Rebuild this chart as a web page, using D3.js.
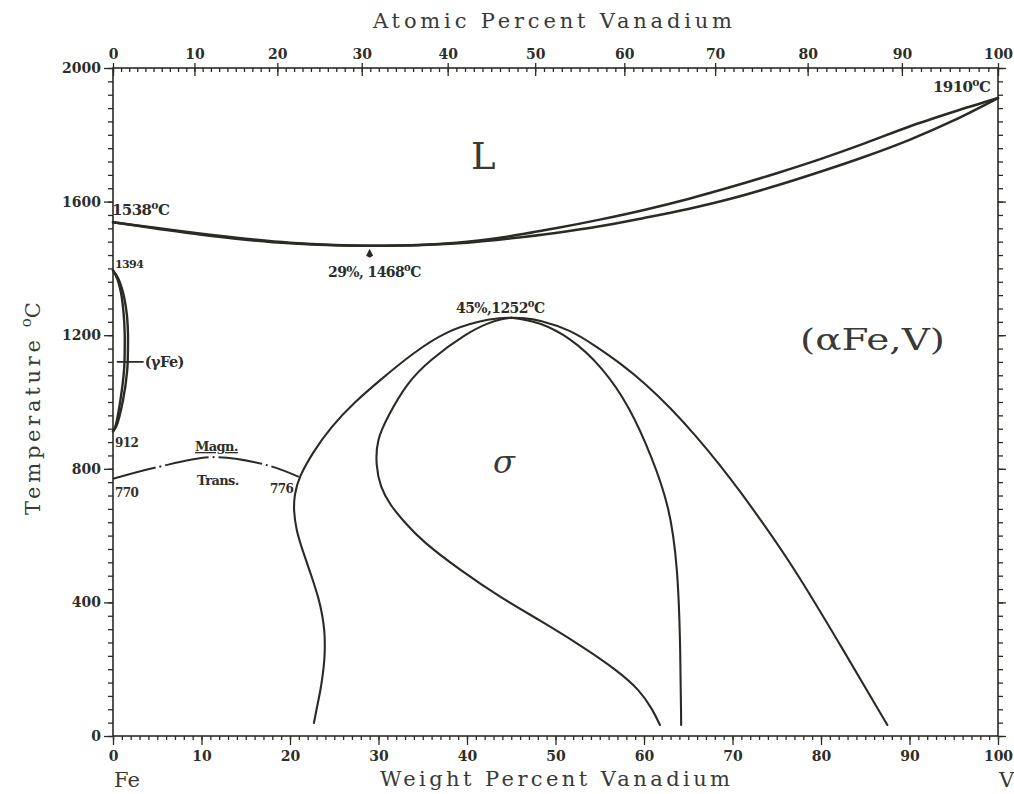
<!DOCTYPE html>
<html>
<head>
<meta charset="utf-8">
<script src="https://cdn.jsdelivr.net/npm/d3@7/dist/d3.min.js"></script>
<style>
  html, body { margin: 0; padding: 0; background: #ffffff; }
  svg { display: block; }
  .num { font-family: "DejaVu Serif", serif; font-weight: bold; fill: #2e2e28; }
  .title { font-family: "DejaVu Serif", serif; fill: #3a3a34; }
</style>
</head>
<body>
<svg id="chart" width="1014" height="794"></svg>
<script>
// Fe–V phase diagram: temperature (°C) against weight percent vanadium.

// Axis ticks
const weightTicks = [0, 10, 20, 30, 40, 50, 60, 70, 80, 90, 100];
const atomicTicks = [0, 10, 20, 30, 40, 50, 60, 70, 80, 90, 100];
const tempTicks = [0, 400, 800, 1200, 1600, 2000];

// Liquidus and solidus, [wt% V, °C]
const liquidus = [[0,1538],[5,1521],[10,1504],[15,1489],[20,1477],[25,1470],[29,1468],[35,1471],[40,1480],[45,1497],[50,1520],[55,1546],[60,1575],[65,1608],[70,1645],[75,1685],[80,1728],[85,1775],[90,1825],[95,1869],[100,1910]];
const solidus = [[0,1538],[5,1519],[10,1501],[15,1486],[20,1475],[25,1469],[29,1468],[35,1470],[40,1477],[45,1490],[50,1506],[55,1526],[60,1551],[65,1578],[70,1610],[75,1648],[80,1690],[85,1735],[90,1785],[95,1843],[100,1910]];

// (γFe) loop boundaries
const gammaOuter = [[0,1394],[0.55,1372],[1.13,1328],[1.55,1265],[1.69,1207],[1.68,1150],[1.61,1096],[1.13,1005],[0.37,927],[0,912]];
const gammaInner = [[0,1394],[0.5,1368],[0.9,1328],[1.2,1265],[1.32,1207],[1.32,1150],[1.25,1096],[0.85,1008],[0.28,928],[0,912]];

// (αFe,V) / (αFe,V)+σ boundary, Fe side and V side of the 45%, 1252 °C maximum
const alphaSigmaFe = [[22.7,39],[23.1,93],[23.45,138],[23.7,182],[23.9,228],[23.95,272],[23.9,317],[23.65,362],[23.3,407],[22.4,482],[21.4,557],[20.7,617],[20.4,677],[20.5,722],[21.0,775],[22.6,850],[24.6,925],[27.3,1000],[30.2,1066],[33.9,1147],[37.7,1213],[41.5,1243],[43.5,1251],[45,1252]];
const alphaSigmaV = [[45,1252],[46.5,1251],[48.1,1246],[51.7,1216],[54.5,1168],[57.3,1117],[60.2,1054],[63.0,982],[65.8,901],[68.6,811],[70.9,731],[73.1,650],[76.9,506],[82.2,272],[87.5,33]];

// σ phase boundary, Fe side and V side
const sigmaFe = [[61.8,33],[61.0,78],[59.5,138],[56.9,198],[52.8,272],[48.2,347],[43.7,416],[39.2,497],[34.9,584],[32.9,641],[31.3,692],[30.2,745],[29.7,811],[29.8,886],[31.0,955],[33.2,1057],[35.8,1126],[40.0,1207],[42.5,1238],[44,1249],[45,1252]];
const sigmaV = [[45,1252],[46,1249],[48,1240],[51.6,1195],[55.3,1105],[58.4,985],[60.9,835],[62.9,686],[63.8,506],[64.1,287],[64.2,33]];

// Magnetic transition of (αFe)
const magnetic = [[0,770],[5.0,805],[11.5,835],[17.4,811],[21.0,776]];

const svg = d3.select("#chart");
const ink = "#2b2b25";

svg.append("rect").attr("width", 1014).attr("height", 794).attr("fill", "#ffffff");

const x = d3.scaleLinear().domain([0, 100]).range([113, 998]);
const y = d3.scaleLinear().domain([0, 2000]).range([736, 68]);

// atomic % V -> weight % V
const MV = 50.9415, MFe = 55.845;
const atToWt = a => 100 * a * MV / (a * MV + (100 - a) * MFe);
const atPts = d3.range(0, 101, 1);
const xAt = d3.scaleLinear().domain(atPts).range(atPts.map(a => x(atToWt(a))));

// frame
svg.append("rect")
  .attr("x", x(0)).attr("y", y(2000))
  .attr("width", x(100) - x(0)).attr("height", y(0) - y(2000))
  .attr("fill", "none").attr("stroke", ink).attr("stroke-width", 1.6);

function styleAxis(g) {
  g.select(".domain").remove();
  g.selectAll("line").attr("stroke", ink).attr("stroke-width", 1.3);
  g.selectAll("text").attr("class", "num").attr("font-size", 14).attr("fill", "#2e2e28");
}

// bottom: weight percent
svg.append("g").attr("transform", `translate(0,${y(0)})`)
  .call(d3.axisBottom(x).tickValues(d3.range(0, 101, 1)).tickSize(4).tickFormat(""))
  .call(styleAxis);
svg.append("g").attr("transform", `translate(0,${y(0)})`)
  .call(d3.axisBottom(x).tickValues(weightTicks).tickSize(9).tickPadding(6).tickFormat(d3.format("d")))
  .call(styleAxis);

// top: atomic percent
svg.append("g").attr("transform", `translate(0,${y(2000)})`)
  .call(d3.axisBottom(xAt).tickValues(d3.range(0, 101, 1)).tickSize(4).tickFormat(""))
  .call(styleAxis);
svg.append("g").attr("transform", `translate(0,${y(2000)})`)
  .call(d3.axisBottom(xAt).tickValues(atomicTicks).tickSize(8).tickFormat(""))
  .call(styleAxis);
svg.append("g").attr("transform", `translate(0,${y(2000)})`)
  .call(d3.axisTop(xAt).tickValues(atomicTicks).tickSize(5).tickPadding(4).tickFormat(d3.format("d")))
  .call(styleAxis);

// left: temperature
svg.append("g").attr("transform", `translate(${x(0)},0)`)
  .call(d3.axisLeft(y).tickValues(d3.range(0, 2001, 40)).tickSize(5).tickFormat(""))
  .call(styleAxis);
svg.append("g").attr("transform", `translate(${x(0)},0)`)
  .call(d3.axisLeft(y).tickValues(tempTicks).tickSize(9).tickPadding(3).tickFormat(d3.format("d")))
  .call(styleAxis);

// right: temperature ticks only
svg.append("g").attr("transform", `translate(${x(100)},0)`)
  .call(d3.axisRight(y).tickValues(d3.range(0, 2001, 40)).tickSize(5).tickFormat(""))
  .call(styleAxis);
svg.append("g").attr("transform", `translate(${x(100)},0)`)
  .call(d3.axisRight(y).tickValues(tempTicks).tickSize(8).tickFormat(""))
  .call(styleAxis);

// axis titles
svg.append("text").attr("class", "title")
  .attr("x", 373).attr("y", 28).attr("font-size", 21)
  .attr("textLength", 359).attr("lengthAdjust", "spacing")
  .text("Atomic Percent Vanadium");
svg.append("text").attr("class", "title")
  .attr("x", 380).attr("y", 786).attr("font-size", 21)
  .attr("textLength", 350).attr("lengthAdjust", "spacing")
  .text("Weight Percent Vanadium");
svg.append("text").attr("class", "title")
  .attr("x", x(0) + 1).attr("y", 787).attr("font-size", 21).text("Fe");
svg.append("text").attr("class", "title")
  .attr("x", 999).attr("y", 787).attr("font-size", 21).text("V");

const yt = svg.append("text").attr("class", "title")
  .attr("transform", "translate(40,515) rotate(-90)")
  .attr("font-size", 21);
yt.append("tspan").attr("textLength", 175).attr("lengthAdjust", "spacing").text("Temperature");
yt.append("tspan").attr("dx", 9).attr("dy", -9).attr("font-size", 15).text("o");
yt.append("tspan").attr("dy", 9).text("C");

// phase boundaries
const line = d3.line().x(d => x(d[0])).y(d => y(d[1])).curve(d3.curveCatmullRom.alpha(0.5));
const smooth = d3.line().x(d => x(d[0])).y(d => y(d[1])).curve(d3.curveBasis);
const plot = svg.append("g").attr("fill", "none").attr("stroke", ink)
  .attr("stroke-linejoin", "round").attr("stroke-linecap", "round");

plot.append("path").datum(liquidus).attr("d", line).attr("stroke-width", 2.5);
plot.append("path").datum(solidus).attr("d", line).attr("stroke-width", 2.5);
plot.append("path").datum(gammaOuter).attr("d", line).attr("stroke-width", 2.4);
plot.append("path").datum(gammaInner).attr("d", line).attr("stroke-width", 2.4);
[alphaSigmaFe, alphaSigmaV, sigmaFe, sigmaV].forEach(pts => {
  plot.append("path").datum(pts).attr("d", smooth).attr("stroke-width", 2.1);
});
plot.append("path").datum(magnetic).attr("d", line).attr("stroke-width", 2)
  .attr("stroke-linecap", "butt").attr("stroke-dasharray", "44,4,2,4");

// (γFe) pointer
plot.append("line")
  .attr("x1", x(0.5)).attr("x2", x(3.4))
  .attr("y1", y(1120)).attr("y2", y(1120)).attr("stroke-width", 1.6);

// congruent minimum marker
const minPt = [29, 1468];
svg.append("path")
  .attr("d", `M${x(minPt[0])},${y(minPt[1]) + 3} l-3.5,7 l3.5,2 l3.5,-2 z`)
  .attr("fill", ink);

// point labels; "deg" inserts a raised small o before the unit
function label(px, py, parts, size) {
  const t = svg.append("text").attr("class", "num").attr("x", px).attr("y", py)
    .attr("font-size", size).attr("letter-spacing", -0.6);
  let raised = false;
  parts.forEach(p => {
    if (p === "deg") {
      t.append("tspan").attr("dy", -6).attr("font-size", size * 0.72).text("o");
      raised = true;
    } else {
      const s = t.append("tspan").text(p);
      if (raised) { s.attr("dy", 6); raised = false; }
    }
  });
  return t;
}

label(x(0) - 1, y(1538) - 7, ["1538", "deg", "C"], 15);
label(933, 92, ["1910", "deg", "C"], 15);
label(328, 277, ["29%, 1468", "deg", "C"], 14);
label(456, 313, ["45%,1252", "deg", "C"], 14);
label(x(0) + 2, 268, ["1394"], 11);
label(x(0) + 2, 447, ["912"], 12);
label(x(0) + 2, 497, ["770"], 12);
label(270, 493, ["776"], 12);
label(x(3.6), y(1120) + 5, ["(\u03b3Fe)"], 14.5);
label(195, 451, ["Magn."], 13).attr("text-decoration", "underline");
label(197, 485, ["Trans."], 13);

// phase field labels
svg.append("text").attr("class", "title").attr("x", 471).attr("y", 169)
  .attr("font-size", 37).attr("fill", "#33332d").text("L");
svg.append("text").attr("class", "title").attr("x", 800).attr("y", 350)
  .attr("font-size", 29).attr("fill", "#33332d")
  .attr("textLength", 145).attr("lengthAdjust", "spacingAndGlyphs").text("(\u03b1Fe,V)");
svg.append("text").attr("class", "title").attr("x", 493).attr("y", 473)
  .attr("font-size", 32).attr("font-style", "italic").attr("fill", "#33332d").text("\u03c3");
</script>
</body>
</html>
